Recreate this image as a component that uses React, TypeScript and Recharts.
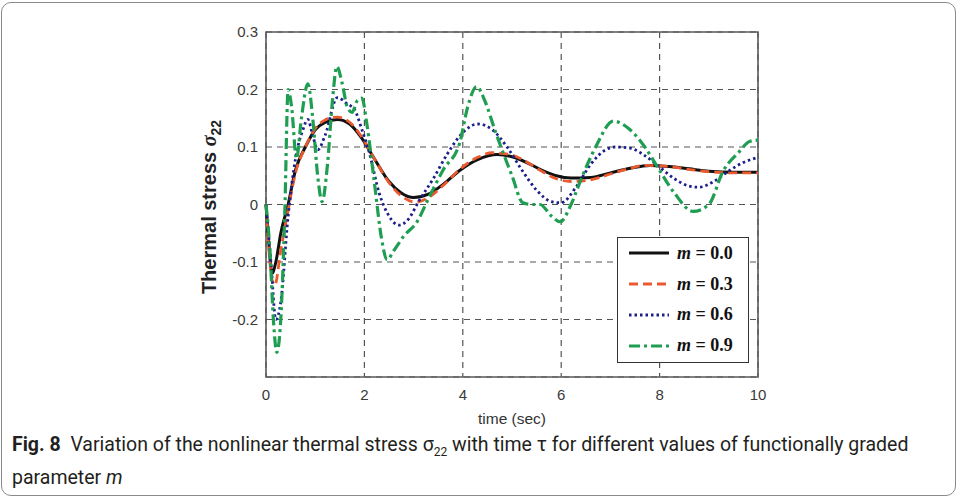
import {
  LineChart,
  Line,
  XAxis,
  YAxis,
  CartesianGrid,
  ReferenceArea,
} from "recharts"

// time samples (sec) and stress values for each m
const tBlack = [0, 0.06, 0.12, 0.2, 0.3, 0.45, 0.6, 0.8, 1.0, 1.2, 1.45, 1.7, 1.95, 2.2, 2.5, 2.75, 3.0, 3.3, 3.6, 3.95, 4.3, 4.7, 5.0, 5.3, 5.6, 5.9, 6.2, 6.6, 7.0, 7.4, 7.8, 8.2, 8.6, 9.0, 9.5, 10]
const stressM00 = [0, -0.07, -0.12, -0.1, -0.05, 0.0, 0.06, 0.1, 0.13, 0.143, 0.148, 0.14, 0.115, 0.08, 0.04, 0.02, 0.012, 0.018, 0.035, 0.06, 0.078, 0.087, 0.083, 0.073, 0.06, 0.05, 0.046, 0.047, 0.055, 0.063, 0.068, 0.066, 0.062, 0.058, 0.056, 0.056]

const tRed = [0, 0.06, 0.12, 0.18, 0.3, 0.45, 0.6, 0.8, 1.0, 1.2, 1.45, 1.7, 1.95, 2.2, 2.5, 2.75, 3.05, 3.3, 3.6, 3.95, 4.3, 4.6, 5.0, 5.3, 5.6, 5.9, 6.2, 6.6, 7.0, 7.4, 7.7, 8.2, 8.6, 9.0, 9.5, 10]
const stressM03 = [0, -0.08, -0.13, -0.14, -0.08, -0.01, 0.055, 0.1, 0.132, 0.147, 0.152, 0.143, 0.117, 0.08, 0.038, 0.015, 0.004, 0.012, 0.033, 0.062, 0.082, 0.09, 0.086, 0.074, 0.058, 0.045, 0.04, 0.043, 0.053, 0.063, 0.068, 0.066, 0.061, 0.057, 0.055, 0.055]

const tBlue = [0, 0.1, 0.2, 0.3, 0.45, 0.6, 0.75, 0.85, 0.95, 1.05, 1.2, 1.45, 1.65, 1.8, 1.95, 2.1, 2.3, 2.5, 2.7, 2.9, 3.1, 3.4, 3.7, 4.0, 4.3, 4.6, 4.9, 5.2, 5.5, 5.8, 6.0, 6.3, 6.6, 6.9, 7.1, 7.4, 7.7, 8.0, 8.3, 8.6, 8.8, 9.1, 9.4, 9.7, 10]
const stressM06 = [0, -0.1, -0.2, -0.17, -0.02, 0.08, 0.13, 0.148, 0.12, 0.095, 0.12, 0.186, 0.175, 0.165, 0.13, 0.09, 0.02, -0.02, -0.036, -0.025, 0.005, 0.045, 0.09, 0.125, 0.14, 0.13, 0.1, 0.06, 0.025, 0.005, 0.003, 0.03, 0.07, 0.095, 0.1, 0.098, 0.085, 0.065, 0.045, 0.032, 0.03, 0.04, 0.058, 0.073, 0.082]

const tGreen = [0, 0.08, 0.15, 0.22, 0.3, 0.38, 0.45, 0.52, 0.62, 0.72, 0.85, 0.95, 1.05, 1.14, 1.25, 1.35, 1.44, 1.55, 1.65, 1.75, 1.85, 1.95, 2.05, 2.2, 2.35, 2.46, 2.6, 2.8, 3.07, 3.3, 3.6, 3.94, 4.1, 4.28, 4.45, 4.65, 4.82, 5.0, 5.22, 5.4, 5.57, 5.8, 5.98, 6.2, 6.4, 6.7, 7.06, 7.4, 7.7, 7.95, 8.3, 8.68, 9.0, 9.29, 9.6, 9.84, 10]
const stressM09 = [0, -0.08, -0.2, -0.257, -0.2, -0.02, 0.2, 0.17, 0.08, 0.15, 0.21, 0.15, 0.05, 0.005, 0.07, 0.18, 0.24, 0.21, 0.17, 0.16, 0.18, 0.185, 0.14, 0.04, -0.06, -0.096, -0.08, -0.055, -0.03, 0.01, 0.06, 0.108, 0.17, 0.205, 0.18, 0.13, 0.09, 0.05, 0.003, 0.0, 0.0, -0.02, -0.03, 0.0, 0.043, 0.1, 0.145, 0.13, 0.1, 0.066, 0.02, -0.012, 0.0, 0.058, 0.09, 0.11, 0.112]

const xTicks = [0, 2, 4, 6, 8, 10]
const yTicks = [-0.2, -0.1, 0, 0.1, 0.2, 0.3]
const mLabels = ["0.0", "0.3", "0.6", "0.9"]

const toPoints = (ts: number[], vs: number[]) => ts.map((t, i) => ({ t, v: vs[i] }))

const series = [
  { name: mLabels[0], data: toPoints(tBlack, stressM00), color: "#111111", dash: undefined, width: 3 },
  { name: mLabels[1], data: toPoints(tRed, stressM03), color: "#ea5a2e", dash: "9 5", width: 2.8 },
  { name: mLabels[2], data: toPoints(tBlue, stressM06), color: "#1c1f8a", dash: "2.5 3", width: 2.8 },
  { name: mLabels[3], data: toPoints(tGreen, stressM09), color: "#1f9e52", dash: "11 4 3 4", width: 3.2 },
]

const tickStyle = { fill: "#3a3a3a", fontSize: 15, fontFamily: "Liberation Sans, Arial, sans-serif" }

export default function App() {
  // legend drawn as an overlay so it does not shrink the plot area
  const renderLegend = () => (
    <div
      style={{
        position: "absolute",
        left: 617,
        top: 237,
        border: "1.5px solid #333",
        background: "#fff",
        width: 132,
        height: 126,
        boxSizing: "border-box",
      }}
    >
      {series.map((s) => (
        <div key={s.name} style={{ display: "flex", alignItems: "center", height: 30.8, paddingLeft: 11 }}>
          <svg width={40} height={8}>
            <line x1={0} y1={4} x2={40} y2={4} stroke={s.color} strokeWidth={s.width} strokeDasharray={s.dash} />
          </svg>
          <span
            style={{
              marginLeft: 8,
              fontFamily: "Liberation Serif, serif",
              fontWeight: 700,
              fontSize: 18,
              color: "#111",
              whiteSpace: "nowrap",
            }}
          >
            <i>m</i> = {s.name}
          </span>
        </div>
      ))}
    </div>
  )

  const renderYLabel = () => (
    <text
      x={0}
      y={0}
      transform="translate(216, 207) rotate(-90)"
      textAnchor="middle"
      style={{ fontFamily: "Liberation Sans, Arial, sans-serif", fontWeight: 700, fontSize: 20, fill: "#222" }}
    >
      Thermal stress{" "}
      <tspan style={{ fontFamily: "Liberation Serif, serif", fontStyle: "italic" }}>σ</tspan>
      <tspan dy={5} fontSize={14}>22</tspan>
    </text>
  )

  return (
    <div
      style={{
        position: "absolute",
        left: 0,
        top: 0,
        width: 959,
        height: 499,
        background: "#fff",
      }}
    >
      <div
        style={{
          position: "absolute",
          left: 1,
          top: 2,
          width: 955,
          height: 494,
          border: "1px solid #8a8a8a",
          borderRadius: 10,
          boxSizing: "border-box",
        }}
      />
      <div style={{ position: "absolute", left: 0, top: 0 }}>
        <LineChart width={959} height={430} margin={{ top: 32, right: 201, left: 206, bottom: 23 }}>
          <CartesianGrid stroke="#555" strokeDasharray="6 5" strokeWidth={1.2} />
          <XAxis
            dataKey="t"
            type="number"
            domain={[0, 10]}
            ticks={xTicks}
            allowDuplicatedCategory={false}
            axisLine={false}
            tickLine={false}
            tickMargin={6}
            tick={tickStyle}
            height={30}
            label={{
              value: "time (sec)",
              position: "insideBottom",
              offset: -17,
              style: { fill: "#333", fontSize: 15.5, fontFamily: "Liberation Sans, Arial, sans-serif" },
            }}
          />
          <YAxis
            type="number"
            domain={[-0.3, 0.3]}
            ticks={yTicks}
            axisLine={false}
            tickLine={false}
            width={60}
            tick={tickStyle}
            tickFormatter={(v: number) => (v === 0 ? "0" : v.toFixed(1))}
            label={{ content: renderYLabel }}
          />
          <ReferenceArea
            x1={0}
            x2={10}
            y1={-0.3}
            y2={0.3}
            fill="none"
            fillOpacity={0}
            stroke="#5a5a5a"
            strokeWidth={1.6}
            ifOverflow="visible"
          />
          {series.map((s) => (
            <Line
              key={s.name}
              data={s.data}
              dataKey="v"
              name={s.name}
              type="monotone"
              stroke={s.color}
              strokeWidth={s.width}
              strokeDasharray={s.dash}
              dot={false}
              isAnimationActive={false}
            />
          ))}
        </LineChart>
      </div>
      {renderLegend()}
      <div
        style={{
          position: "absolute",
          left: 12,
          top: 432,
          width: 940,
          fontFamily: "Roboto, sans-serif",
          fontSize: 19.5,
          lineHeight: "26px",
          color: "#231f20",
          whiteSpace: "nowrap",
        }}
      >
        <b>Fig. 8</b>&nbsp; Variation of the nonlinear thermal stress σ<sub style={{ fontSize: 12 }}>22</sub> with time τ for
        different values of functionally graded
        <br />
        parameter <i>m</i>
      </div>
    </div>
  )
}
